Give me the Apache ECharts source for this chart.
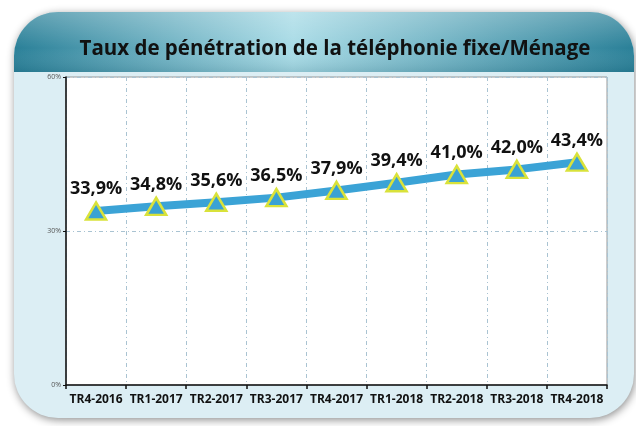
<!DOCTYPE html>
<html>
<head>
<meta charset="utf-8">
<script src="https://cdn.jsdelivr.net/npm/echarts@6/dist/echarts.min.js"></script>
<style>
html, body { margin: 0; padding: 0; background: #ffffff; }
#chart { width: 636px; height: 426px; }
</style>
</head>
<body>
<div id="chart"></div>
<script>
var categories = ['TR4-2016', 'TR1-2017', 'TR2-2017', 'TR3-2017', 'TR4-2017', 'TR1-2018', 'TR2-2018', 'TR3-2018', 'TR4-2018'];
var penetration = [33.9, 34.8, 35.6, 36.5, 37.9, 39.4, 41.0, 42.0, 43.4];
var titleText = 'Taux de pénétration de la téléphonie fixe/Ménage';

var myChart = echarts.init(document.getElementById('chart'));
var option = {
    backgroundColor: '#ffffff',
    animation: false,
    graphic: [
        {//面板
            type: 'rect',
            shape: { x: 14, y: 12, width: 620, height: 406, r: 44 },
            style: {
                fill: '#dceef4',
                shadowBlur: 8,
                shadowColor: 'rgba(0,0,0,0.45)',
                shadowOffsetX: 1,
                shadowOffsetY: 2
            },
            z: -10
        },
        {//标题栏
            type: 'rect',
            shape: { x: 14, y: 12, width: 620, height: 60, r: [44, 44, 0, 0] },
            style: {
                fill: new echarts.graphic.LinearGradient(0, 0, 1, 0, [
                    { offset: 0, color: '#2a8098' },
                    { offset: 0.45, color: '#a8dbe6' },
                    { offset: 1, color: '#2a8098' }
                ])
            },
            z: -9
        },
        {
            type: 'rect',
            shape: { x: 14, y: 12, width: 620, height: 60, r: [44, 44, 0, 0] },
            style: {
                fill: new echarts.graphic.LinearGradient(0, 0, 0, 1, [
                    { offset: 0, color: 'rgba(255,255,255,0.25)' },
                    { offset: 0.6, color: 'rgba(255,255,255,0)' },
                    { offset: 1, color: 'rgba(0,60,80,0.15)' }
                ])
            },
            z: -8
        }
    ],
    title: {
        text: titleText,
        left: 330,
        textAlign: 'center',
        top: 34,
        textStyle: {
            fontFamily: 'Open Sans',
            fontWeight: 'bold',
            fontSize: 20.5,
            color: '#111111'
        }
    },
    grid: {
        left: 66,
        right: 29,
        top: 77,
        bottom: 41,
        show: true,
        backgroundColor: '#ffffff',
        borderColor: '#999999',
        borderWidth: 1
    },
    xAxis: {
        type: 'category',
        data: categories,
        boundaryGap: true,
        axisLine: { lineStyle: { color: '#111111', width: 1.5 } },
        axisTick: { show: true, length: 4, lineStyle: { color: '#111111', width: 1.5 } },
        axisLabel: {
            interval: 0,
            margin: 9,
            fontFamily: 'Open Sans',
            fontWeight: 'bold',
            fontSize: 12,
            color: '#111111'
        },
        splitLine: {
            show: true,
            interval: 0,
            lineStyle: { color: '#a9c3d2', type: [4, 3, 1, 3], width: 1 }
        }
    },
    yAxis: {
        type: 'value',
        min: 0,
        max: 60,
        interval: 30,
        axisLine: { show: true, lineStyle: { color: '#111111', width: 1.5 } },
        axisTick: { show: true, length: 3, lineStyle: { color: '#111111' } },
        axisLabel: {
            formatter: '{value}%',
            fontFamily: 'Open Sans',
            fontSize: 7,
            color: '#555555',
            margin: 5
        },
        splitLine: {
            show: true,
            lineStyle: { color: '#a9c3d2', type: [4, 3, 1, 3], width: 1 }
        }
    },
    series: [
        {
            name: 'Taux',
            type: 'line',
            data: penetration,
            symbol: 'triangle',
            symbolSize: [20, 17],
            lineStyle: { color: '#3ba3d6', width: 8 },
            itemStyle: {
                color: '#3aa2d4',
                borderColor: '#d9e23a',
                borderWidth: 2.5
            },
            label: {
                show: true,
                position: 'top',
                distance: 3,
                formatter: function (p) {
                    return p.value.toFixed(1).replace('.', ',') + '%';
                },
                fontFamily: 'Open Sans',
                fontWeight: 'bold',
                fontSize: 18,
                color: '#111111'
            },
            z: 5
        }
    ]
};
myChart.setOption(option, true);
</script>
</body>
</html>
